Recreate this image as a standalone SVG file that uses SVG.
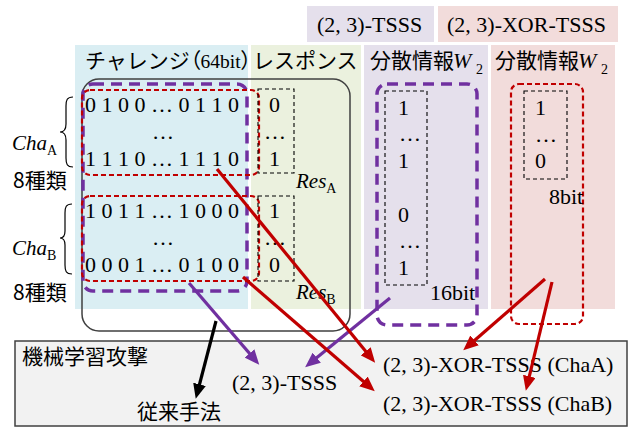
<svg xmlns="http://www.w3.org/2000/svg" width="631" height="427" viewBox="0 0 631 427">
<style>
.jp{font-family:"Noto Sans CJK JP","Noto Sans",sans-serif;font-size:21px;fill:#000}
.lat{font-family:"Liberation Serif","Times New Roman",serif;font-size:22px;fill:#000}
.it{font-family:"Liberation Serif","Times New Roman",serif;font-style:italic;font-size:21px;fill:#000}
.sub{font-family:"Liberation Serif","Times New Roman",serif;font-style:normal;font-size:14px}
.palt{font-feature-settings:"palt"}
.pdash{fill:none;stroke:#7030a0;stroke-width:3.5;stroke-dasharray:11 7}
.rdash{fill:none;stroke:#c00000;stroke-width:2.2;stroke-dasharray:5 3}
.kdash{fill:none;stroke:#000;stroke-width:1.1;stroke-dasharray:4 3}
.brace{fill:none;stroke:#000;stroke-width:1.2}
.ar{fill:none;stroke-width:3.2}
</style>
<defs>
<marker id="mr" markerUnits="userSpaceOnUse" markerWidth="15" markerHeight="13" refX="10" refY="6.5" orient="auto"><path d="M0,0 L15,6.5 L0,13 z" fill="#c00000"/></marker>
<marker id="mp" markerUnits="userSpaceOnUse" markerWidth="15" markerHeight="13" refX="10" refY="6.5" orient="auto"><path d="M0,0 L15,6.5 L0,13 z" fill="#7030a0"/></marker>
<marker id="mk" markerUnits="userSpaceOnUse" markerWidth="15" markerHeight="13" refX="10" refY="6.5" orient="auto"><path d="M0,0 L15,6.5 L0,13 z" fill="#000"/></marker>
</defs>

<g id="panels">
<rect x="307" y="6" width="127" height="36" fill="#e5e0ec"/>
<rect x="438" y="6" width="180" height="36" fill="#f2dcdb"/>
<rect x="75" y="45" width="173" height="264" fill="#daeef3"/>
<rect x="251" y="45" width="110" height="264" fill="#ebf1de"/>
<rect x="364" y="45" width="124" height="264" fill="#e5e0ec"/>
<rect x="491" y="45" width="124" height="264" fill="#f2dcdb"/>
</g>

<g id="headers">
<text class="lat" x="317" y="32">(2, 3)-TSSS</text>
<text class="lat" x="447" y="32">(2, 3)-XOR-TSSS</text>
<text class="jp" x="85" y="68">チャレンジ<tspan class="palt" x="190">（</tspan><tspan class="lat" x="200.5" style="font-size:19.5px">64bit</tspan><tspan class="palt" x="241">）</tspan></text>
<text class="jp" x="253" y="68">レスポンス</text>
<text class="jp" x="370" y="68">分散情報<tspan class="it" x="453" style="font-size:22px">W</tspan><tspan class="sub" x="476" y="74">2</tspan></text>
<text class="jp" x="495" y="68">分散情報<tspan class="it" x="578" style="font-size:22px">W</tspan><tspan class="sub" x="601" y="74">2</tspan></text>
</g>

<g id="bottom-box">
<rect x="15" y="341" width="612" height="85" fill="#f2f2f2" stroke="#404040" stroke-width="1.5"/>
<text class="jp" x="22" y="364">機械学習攻撃</text>
<text class="jp" x="137" y="419">従来手法</text>
<text class="lat" x="232" y="390">(2, 3)-TSSS</text>
<text class="lat" x="383" y="372">(2, 3)-XOR-TSSS (ChaA)</text>
<text class="lat" x="383" y="411">(2, 3)-XOR-TSSS (ChaB)</text>
</g>

<g id="group-outline">
<rect x="82" y="79" width="268" height="252" rx="17" fill="none" stroke="#404040" stroke-width="1.5"/>
</g>

<g id="challenge">
<rect class="pdash" x="83" y="84" width="164" height="207" rx="10"/>
<rect class="rdash" x="82" y="90" width="177" height="85" rx="8"/>
<rect class="rdash" x="82" y="196" width="177" height="85" rx="8"/>
<text class="lat" x="85" y="112">0 1 0 0 … 0 1 1 0</text>
<text class="lat" x="152" y="139">…</text>
<text class="lat" x="85" y="166">1 1 1 0 … 1 1 1 0</text>
<text class="lat" x="85" y="218">1 0 1 1 … 1 0 0 0</text>
<text class="lat" x="152" y="245">…</text>
<text class="lat" x="85" y="272">0 0 0 1 … 0 1 0 0</text>
</g>

<g id="labels">
<path class="brace" d="M73,97 C67,97 66,100 66,106 L66,124 C66,130 64,132 60,132 C64,132 66,134 66,140 L66,158 C66,164 67,167 73,167"/>
<path class="brace" d="M72,204 C66,204 65,207 65,213 L65,231 C65,236 63,238 60,238 C63,238 65,240 65,245 L65,265 C65,271 66,274 72,274"/>
<text class="it" x="12" y="150">Cha<tspan class="sub" y="155">A</tspan></text>
<text class="jp" x="13" y="188">8種類</text>
<text class="it" x="12" y="255">Cha<tspan class="sub" y="260">B</tspan></text>
<text class="jp" x="13" y="300">8種類</text>
</g>

<g id="response">
<rect class="kdash" x="258" y="89" width="36" height="84"/>
<rect class="kdash" x="258" y="196" width="36" height="85"/>
<text class="lat" x="269" y="112">0</text>
<text class="lat" x="264" y="139">…</text>
<text class="lat" x="269" y="166">1</text>
<text class="lat" x="269" y="218">1</text>
<text class="lat" x="264" y="245">…</text>
<text class="lat" x="269" y="272">0</text>
<text class="it" x="296" y="188">Res<tspan class="sub" y="193">A</tspan></text>
<text class="it" x="296" y="299">Res<tspan class="sub" y="304">B</tspan></text>
</g>

<g id="w2-tsss">
<rect class="pdash" x="377" y="84" width="100" height="241" rx="10"/>
<rect class="kdash" x="385" y="91" width="42" height="194"/>
<text class="lat" x="398" y="115">1</text>
<text class="lat" x="399" y="141">…</text>
<text class="lat" x="398" y="168">1</text>
<text class="lat" x="398" y="222">0</text>
<text class="lat" x="399" y="248">…</text>
<text class="lat" x="398" y="275">1</text>
<text class="lat" x="430" y="300">16bit</text>
</g>

<g id="w2-xor">
<rect class="rdash" x="511" y="84" width="72" height="240" rx="8"/>
<rect class="kdash" x="524" y="91" width="43" height="88"/>
<text class="lat" x="535" y="115">1</text>
<text class="lat" x="535" y="142">…</text>
<text class="lat" x="535" y="168">0</text>
<text class="lat" x="549" y="204">8bit</text>
</g>

<g id="connectors">
<line class="ar" x1="216" y1="321" x2="197" y2="394" stroke="#000" marker-end="url(#mk)"/>
<line class="ar" x1="189" y1="283" x2="256" y2="361" stroke="#7030a0" marker-end="url(#mp)"/>
<line class="ar" x1="390" y1="298" x2="309" y2="364" stroke="#7030a0" marker-end="url(#mp)"/>
<line class="ar" x1="217" y1="169" x2="372" y2="359" stroke="#c00000" marker-end="url(#mr)"/>
<line class="ar" x1="243" y1="277" x2="371" y2="388" stroke="#c00000" marker-end="url(#mr)"/>
<line class="ar" x1="545" y1="279" x2="467" y2="347" stroke="#c00000" marker-end="url(#mr)"/>
<line class="ar" x1="552" y1="282" x2="527" y2="386" stroke="#c00000" marker-end="url(#mr)"/>
</g>
</svg>
